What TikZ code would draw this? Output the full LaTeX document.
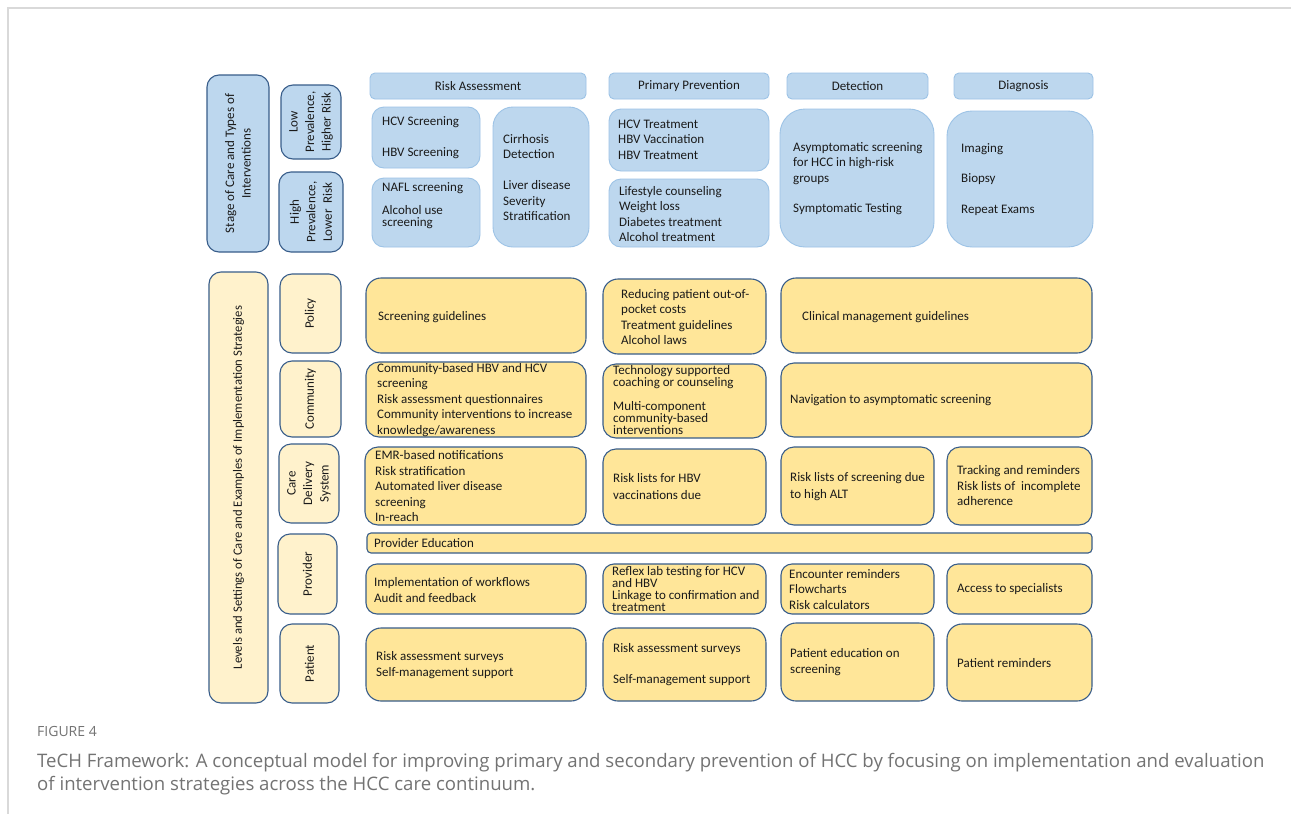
\documentclass[tikz,border=0pt]{standalone}
\usepackage{fontspec}
\setmainfont{Carlito}
\newfontfamily\capfont{Open Sans}
\definecolor{bfill}{HTML}{BDD7EE}
\definecolor{bline}{HTML}{9DC3E6}
\definecolor{dline}{HTML}{385D8A}
\definecolor{yfill}{HTML}{FFE699}
\definecolor{ylight}{HTML}{FFF2CC}
\definecolor{capgray}{HTML}{737373}
\definecolor{framegray}{HTML}{D9D9D9}
\definecolor{txtc}{HTML}{1A1A1A}
\tikzset{
  boxbase/.style={inner sep=0pt, outer sep=0pt, rectangle},
  hdr/.style={boxbase, fill=bfill, draw=bline, line width=0.9pt, rounded corners=5pt},
  hdrt/.style={inner sep=0pt, text=txtc, font=\fontsize{13}{15.5}\selectfont},
  bcont/.style={boxbase, fill=bfill, draw=bline, line width=0.9pt, rounded corners=#1},
  bcont/.default=12pt,
  blab/.style={boxbase, fill=bfill, draw=dline, line width=1.1pt, rounded corners=12pt},
  ylab/.style={boxbase, fill=ylight, draw=dline, line width=1.1pt, rounded corners=12pt},
  ybox/.style={boxbase, fill=yfill, draw=dline, line width=1.1pt, rounded corners=#1},
  ybox/.default=13pt,
  txt/.style={anchor=west, align=left, inner sep=0pt, text=txtc, font=\fontsize{13}{15.5}\selectfont},
  txtt/.style={anchor=west, align=left, inner sep=0pt, text=txtc, font=\fontsize{13}{12.2}\selectfont},
  rlab/.style={rotate=90, align=center, inner sep=0pt, text=txtc, font=\fontsize{13}{16.5}\selectfont},
  captxt/.style={anchor=west, inner sep=0pt, text=capgray, font=\capfont\fontsize{18.6}{22}\selectfont},
}
\newcommand\bx[6]{\node[#6, minimum width={#4-#2}, minimum height={#5-#3}] (#1) at ({(#2+#4)/2},{(#3+#5)/2}) {};}
\begin{document}
\begin{tikzpicture}[x=1pt,y=-1pt]
\useasboundingbox (0,0) rectangle (1291,814);
\fill[white] (0,0) rectangle (1291,814);
\coordinate (fa) at (8,814);
\coordinate (fb) at (8,8);
\coordinate (fc) at (1291,8);
\draw[framegray, line width=1.4pt] (fa) -- (fb) -- (fc);

% ---------- top (blue) section ----------
\bx{stage}{207}{75}{269}{252}{blab}
\node[rlab] (stageT) at (stage.center) {Stage of Care and Types of\\Interventions};
\bx{low}{281}{85}{341}{159}{blab}
\node[rlab] (lowT) at (low.center) {Low\\Prevalence,\\Higher Risk};
\bx{high}{279}{172}{343}{252}{blab}
\node[rlab] (highT) at (high.center) {High\\Prevalence,\\Lower \ Risk};

\bx{hRA}{370}{73}{586}{99}{hdr}
\node[hdrt] (hRAt) at (hRA.center) {Risk Assessment};
\bx{hPP}{609}{73}{769}{99}{hdr}
\node[hdrt] (hPPt) at (hPP.center) {Primary Prevention};
\bx{hDet}{787}{73}{928}{99}{hdr}
\node[hdrt] (hDett) at (hDet.center) {Detection};
\bx{hDiag}{954}{73}{1093}{99}{hdr}
\node[hdrt] (hDiagt) at (hDiag.center) {Diagnosis};

\bx{hcvs}{372}{107}{480}{168}{bcont}
\node[txt] (hcvsT) at (382,137.5) {HCV Screening\\[15.5pt]HBV Screening};
\bx{nafl}{372}{178}{480}{247}{bcont}
\node[txtt] (naflT) at (382,206) {NAFL screening\\[10.5pt]Alcohol use\\screening};
\bx{cirr}{493}{107}{589}{247}{bcont=20pt}
\node[txt] (cirrT) at (503,177.5) {Cirrhosis\\Detection\\[15.5pt]Liver disease\\Severity\\Stratification};
\bx{hcvt}{609}{109}{769}{171}{bcont}
\node[txt] (hcvtT) at (618,139.5) {HCV Treatment\\HBV Vaccination\\HBV Treatment};
\bx{life}{609}{179}{769}{247}{bcont}
\node[txt] (lifeT) at (619,214) {Lifestyle counseling\\Weight loss\\Diabetes treatment\\Alcohol treatment};
\bx{det}{780}{109}{934}{247}{bcont=25pt}
\node[txt] (detT) at (793,178.5) {Asymptomatic screening\\for HCC in high-risk\\groups\\[14.5pt]Symptomatic Testing};
\bx{diag}{947}{111}{1093}{247}{bcont=25pt}
\node[txt] (diagT) at (961,179.5) {Imaging\\[15pt]Biopsy\\[15pt]Repeat Exams};

% ---------- bottom (yellow) section ----------
\bx{levels}{209}{272}{268}{703}{ylab}
\node[rlab, font=\fontsize{12.7}{15}\selectfont] (levelsT) at (levels.center) {Levels and Settings of Care and Examples of Implementation Strategies};
\bx{policy}{280}{274}{341}{353}{ylab}
\node[rlab] (policyT) at (policy.center) {Policy};
\bx{community}{280}{361}{341}{437}{ylab}
\node[rlab] (communityT) at (community.center) {Community};
\bx{care}{279}{444}{339}{523}{ylab}
\node[rlab] (careT) at (care.center) {Care\\Delivery\\System};
\bx{provider}{278}{534}{337}{614}{ylab}
\node[rlab] (providerT) at (provider.center) {Provider};
\bx{patient}{280}{624}{339}{703}{ylab}
\node[rlab] (patientT) at (patient.center) {Patient};

% policy row
\bx{p1}{366}{278}{586}{353}{ybox=15pt}
\node[txt] (p1T) at (378,317) {Screening guidelines};
\bx{p2}{603}{279}{766}{354}{ybox=15pt}
\node[txt] (p2T) at (621,317) {Reducing patient out-of-\\pocket costs\\Treatment guidelines\\Alcohol laws};
\bx{p3}{781}{278}{1092}{353}{ybox=15pt}
\node[txt] (p3T) at (802,317) {Clinical management guidelines};

% community row
\bx{c1}{366}{362}{586}{437}{ybox}
\node[txt] (c1T) at (377,400) {Community-based HBV and HCV\\screening\\Risk assessment questionnaires\\Community interventions to increase\\knowledge/awareness};
\bx{c2}{603}{364}{766}{438}{ybox}
\node[txtt] (c2T) at (613,400) {Technology supported\\coaching or counseling\\[12pt]Multi-component\\community-based\\interventions};
\bx{c3}{781}{363}{1092}{437}{ybox}
\node[txt] (c3T) at (790,400) {Navigation to asymptomatic screening};

% care delivery row
\bx{d1}{365}{447}{586}{525}{ybox}
\node[txt] (d1T) at (375,486.5) {EMR-based notifications\\Risk stratification\\Automated liver disease\\screening\\In-reach};
\bx{d2}{603}{449}{766}{525}{ybox}
\node[txt] (d2T) at (613,486.5) {Risk lists for HBV\\[1pt]vaccinations due};
\bx{d3}{781}{447}{934}{525}{ybox}
\node[txt] (d3T) at (790,486.5) {Risk lists of screening due\\[1pt]to high ALT};
\bx{d4}{947}{447}{1092}{525}{ybox}
\node[txt] (d4T) at (957,486) {Tracking and reminders\\Risk lists of \ incomplete\\adherence};

% provider education bar
\bx{pedu}{367}{533}{1092}{553}{ybox=4pt}
\node[txt] (peduT) at (374,543) {Provider Education};

% provider row
\bx{v1}{366}{564}{586}{614}{ybox=11pt}
\node[txt] (v1T) at (374,590) {Implementation of workflows\\Audit and feedback};
\bx{v2}{603}{564}{766}{614}{ybox=11pt}
\node[txtt] (v2T) at (612,589) {Reflex lab testing for HCV\\and HBV\\Linkage to confirmation and\\treatment};
\bx{v3}{781}{564}{934}{614}{ybox=11pt}
\node[txt] (v3T) at (789,589.5) {Encounter reminders\\Flowcharts\\Risk calculators};
\bx{v4}{947}{564}{1092}{614}{ybox=11pt}
\node[txt] (v4T) at (957,589) {Access to specialists};

% patient row
\bx{t1}{366}{628}{586}{701}{ybox=15pt}
\node[txt] (t1T) at (376,665) {Risk assessment surveys\\Self-management support};
\bx{t2}{603}{628}{766}{701}{ybox=15pt}
\node[txt] (t2T) at (613,664.5) {Risk assessment surveys\\[15.5pt]Self-management support};
\bx{t3}{781}{623}{934}{701}{ybox=15pt}
\node[txt] (t3T) at (790,662) {Patient education on\\screening};
\bx{t4}{947}{624}{1092}{701}{ybox=15pt}
\node[txt] (t4T) at (957,663) {Patient reminders};

% ---------- caption ----------
\node[anchor=west, inner sep=0pt, text=capgray, font=\capfont\fontsize{14}{16}\selectfont] (figlab) at (37,731) {FIGURE 4};
\node[captxt] (cap1) at (37,763) {TeCH Framework: A conceptual model for improving primary and secondary prevention of HCC by focusing on implementation and evaluation};
\node[captxt] (cap2) at (37,786) {of intervention strategies across the HCC care continuum.};
\end{tikzpicture}
\end{document}
